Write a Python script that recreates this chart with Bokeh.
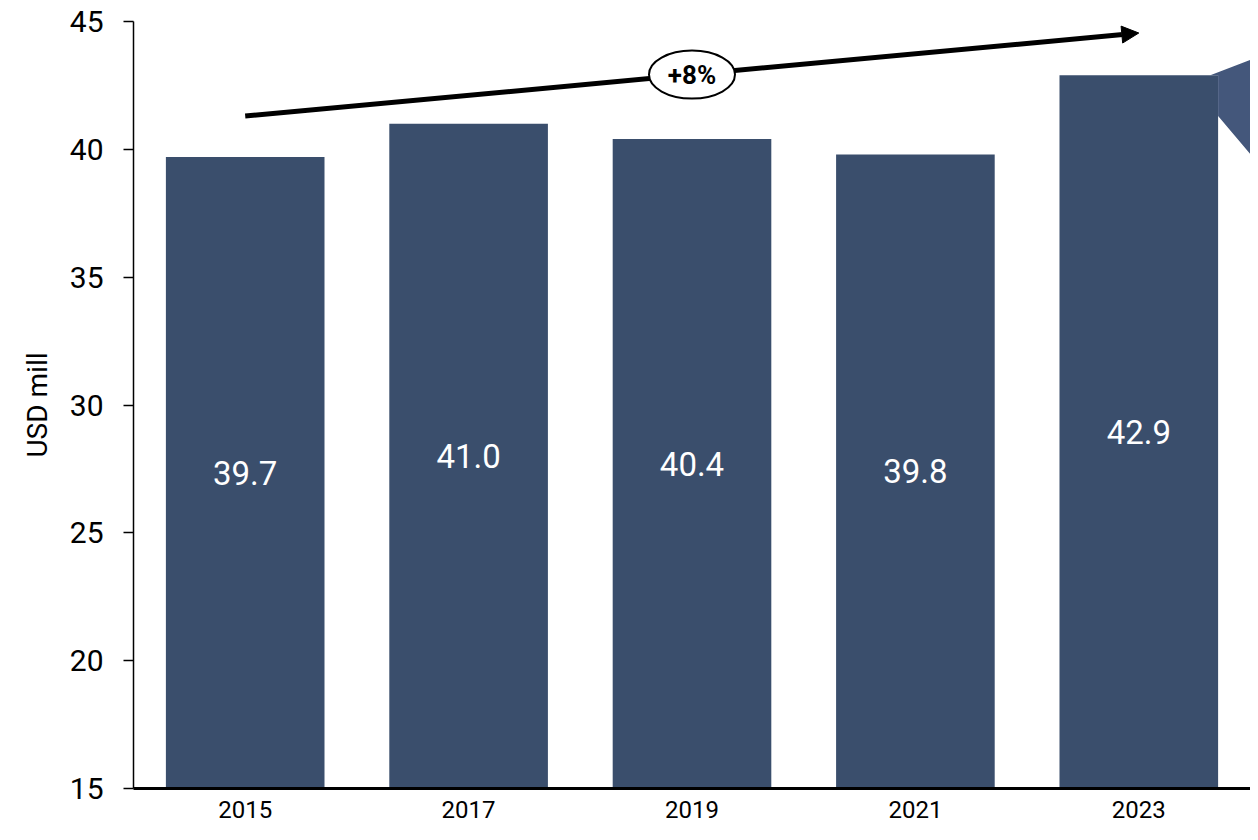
from bokeh.plotting import figure
from bokeh.models import (ColumnDataSource, FixedTicker, Range1d, Arrow, NormalHead,
                          Label, Title)
from bokeh.embed import file_html
from bokeh.resources import INLINE
from bokeh.core.properties import value

# ---- data ----
categories = ["2015", "2017", "2019", "2021", "2023"]
values = [39.7, 41.0, 40.4, 39.8, 42.9]
y_ticks = [15, 20, 25, 30, 35, 40, 45]
growth_label = "+8%"
y_title = "USD mill"
arrow_start = 41.3
arrow_end = 44.55

BAR = "#3a4e6c"
FONT = "Roboto"

xs = [i + 0.5 for i in range(len(categories))]
bottom = 15
mids = [(bottom + v) / 2 for v in values]
labels = [f"{v:.1f}" for v in values]

src = ColumnDataSource(dict(x=xs, top=values, mid=mids, lab=labels))

p = figure(width=1250, height=830, output_backend="svg", toolbar_location=None,
           x_range=Range1d(0, len(categories)), y_range=Range1d(15, 45),
           min_border_left=133, min_border_right=0, min_border_top=21,
           min_border_bottom=42)
p.outline_line_color = None
p.background_fill_color = "white"
p.xgrid.visible = False
p.ygrid.visible = False

bar_w = 0.71
p.vbar(x="x", top="top", bottom=bottom, width=bar_w, source=src,
       fill_color=BAR, line_color=None)

p.text(x="x", y="mid", text="lab", source=src, text_color="white",
       text_font=value(FONT), text_font_size="33px",
       text_align="center", text_baseline="middle")

# callout wedge at the right edge
last = len(values) - 1
xr = xs[last] + bar_w / 2
p.patch([xr - 0.035, len(categories), len(categories), xr, xr],
        [values[last], values[last] + 0.6, values[last] - 3.1, values[last] - 1.6, values[last]],
        fill_color="#44577b", line_color=None)

# growth arrow
p.add_layout(Arrow(end=NormalHead(size=17, fill_color="black", line_color="black"),
                   x_start=xs[0], y_start=arrow_start, x_end=xs[-1], y_end=arrow_end,
                   line_width=5, line_color="black", level="underlay"))
cx = (xs[0] + xs[-1]) / 2
cy = (arrow_start + arrow_end) / 2
p.ellipse(x=[cx], y=[cy], width=[86], height=[48], width_units="screen",
          height_units="screen", fill_color="white", line_color="black", line_width=2)
p.add_layout(Label(x=cx, y=cy, text=growth_label, text_font=FONT, text_font_size="26px",
                   text_font_style="bold", text_align="center", text_baseline="middle",
                   text_color="black"))

# axes
ya = p.yaxis[0]
ya.ticker = FixedTicker(ticks=y_ticks)
ya.minor_tick_line_color = None
ya.major_tick_out = 10
ya.major_tick_in = 0
ya.major_label_standoff = 20
ya.major_label_text_font = FONT
ya.major_label_text_font_size = "30px"
ya.major_label_text_color = "black"
ya.axis_line_color = "black"
ya.axis_line_width = 1.5
ya.major_tick_line_color = "black"
ya.major_tick_line_width = 1.5

p.add_layout(Title(text=y_title, align="center", text_font=FONT, text_font_size="28px",
                   text_font_style="normal", text_color="black", standoff=26), "left")

xa = p.xaxis[0]
xa.ticker = FixedTicker(ticks=xs)
xa.major_label_overrides = {x: c for x, c in zip(xs, categories)}
xa.major_tick_line_color = None
xa.minor_tick_line_color = None
xa.axis_line_color = "black"
xa.axis_line_width = 3
xa.major_label_text_font = FONT
xa.major_label_text_font_size = "24px"
xa.major_label_text_color = "black"
xa.major_label_standoff = 6

open("out.html", "w").write(file_html(p, INLINE))
